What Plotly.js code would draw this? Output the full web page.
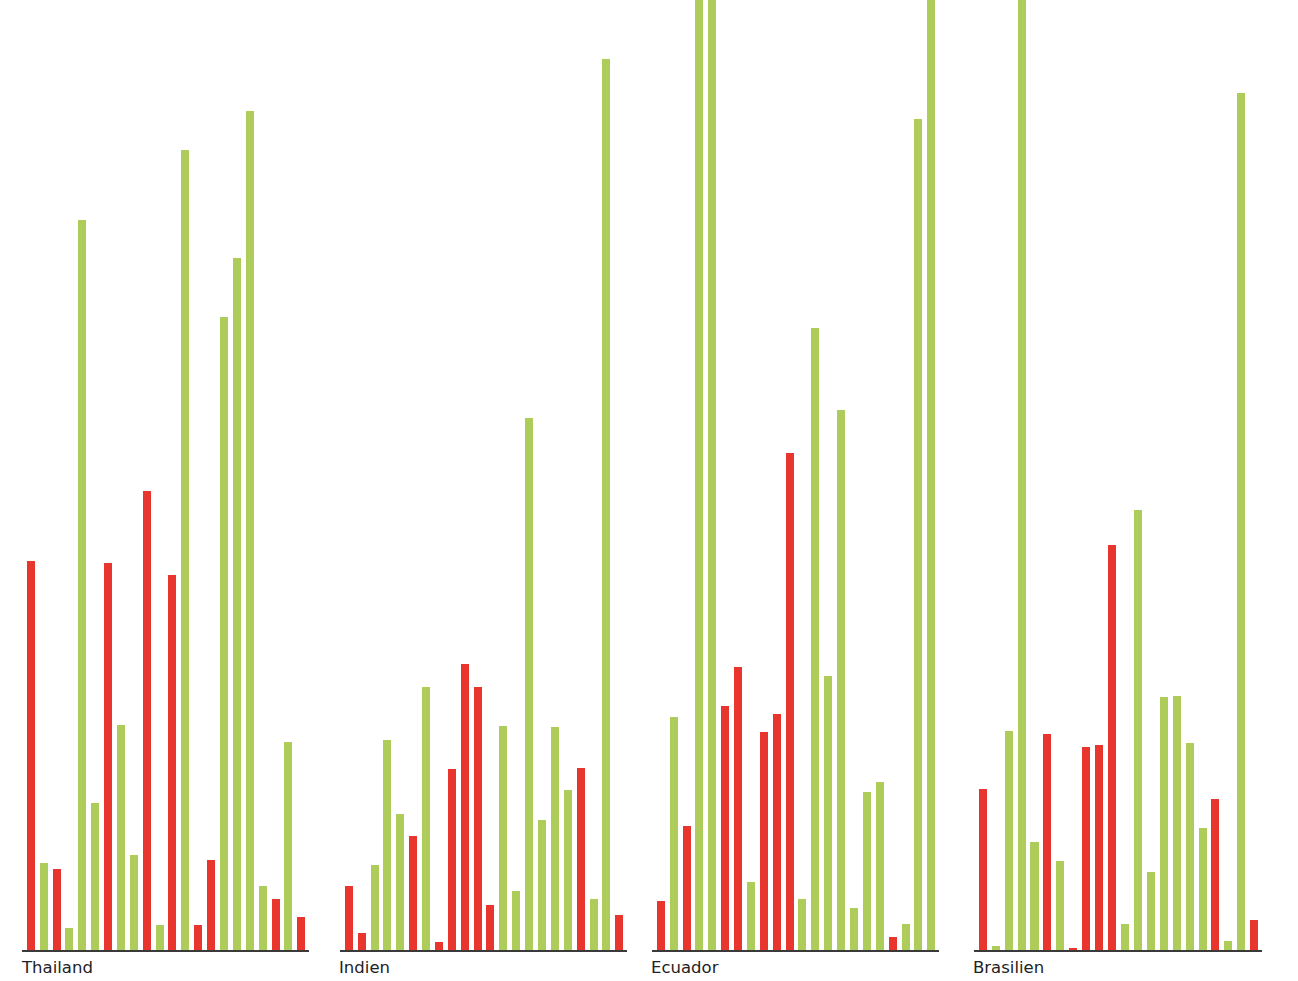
<!DOCTYPE html>
<html>
<head>
<meta charset="utf-8">
<script src="https://cdn.plot.ly/plotly-3.0.1.min.js"></script>
<style>html,body{margin:0;padding:0;background:#fff;}#chart{width:1298px;height:981px;}</style>
</head>
<body>
<div id="chart"></div>
<script>
// Countries (panel labels)
const countries = ["Thailand", "Indien", "Ecuador", "Brasilien"];
// Bar positions within each panel
const idx = [0,1,2,3,4,5,6,7,8,9,10,11,12,13,14,15,16,17,18,19,20,21];

// Values per country (bars taller than the plot top are clipped)
const thailandValues = [389, 87, 81, 22, 730, 147, 387, 225, 95, 459, 25, 375, 800, 25, 90, 633, 692, 839, 64, 51, 208, 33];
const indienValues   = [64, 17, 85, 210, 136, 114, 263, 8, 181, 286, 263, 45, 224, 59, 532, 130, 223, 160, 182, 51, 891, 35];
const ecuadorValues  = [49, 233, 124, 1000, 1000, 244, 283, 68, 218, 236, 497, 51, 622, 274, 540, 42, 158, 168, 13, 26, 831, 1000];
const brasilienValues= [161, 4, 219, 1000, 108, 216, 89, 2, 203, 205, 405, 26, 440, 78, 253, 254, 207, 122, 151, 9, 857, 30];

// Colour class per bar: "r" = red, "g" = green
const thailandClass = ["r","g","r","g","g","g","r","g","g","r","g","r","g","r","r","g","g","g","g","r","g","r"];
const indienClass   = ["r","r","g","g","g","r","g","r","r","r","r","r","g","g","g","g","g","g","r","g","g","r"];
const ecuadorClass  = ["r","g","r","g","g","r","r","g","r","r","r","g","g","g","g","g","g","g","r","g","g","g"];
const brasilienClass= ["r","g","g","g","g","r","g","r","r","r","r","g","g","g","g","g","g","g","r","g","g","r"];

const RED = "#E8352E", GREEN = "#AECC59";
const values = [thailandValues, indienValues, ecuadorValues, brasilienValues];
const classes = [thailandClass, indienClass, ecuadorClass, brasilienClass];

const W = 1298, H = 981;
const axisPx = [[22, 309], [340, 627], [652, 939], [974, 1262]];
const plotBottom = 950;

const traces = values.map((v, k) => ({
  type: "bar",
  x: idx,
  y: v,
  width: 0.62,
  xaxis: k === 0 ? "x" : "x" + (k + 1),
  yaxis: "y",
  marker: { color: classes[k].map(c => c === "r" ? RED : GREEN), line: { width: 0 } },
  hoverinfo: "skip",
  showlegend: false
}));

const layout = {
  width: W, height: H,
  margin: { l: 0, r: 0, t: 0, b: 0 },
  paper_bgcolor: "#fff", plot_bgcolor: "#fff",
  showlegend: false,
  bargap: 0,
  yaxis: {
    domain: [(H - plotBottom) / H, 1],
    range: [0, plotBottom],
    visible: false,
    fixedrange: true
  },
  annotations: countries.map((c, k) => ({
    text: c,
    xref: "paper", yref: "paper",
    x: (axisPx[k][0] - 2) / W, xanchor: "left",
    y: (H - 967) / H, yanchor: "middle",
    borderpad: 0,
    showarrow: false,
    font: { family: "DejaVu Sans", size: 16.5, color: "#222" }
  }))
};

axisPx.forEach((p, k) => {
  const key = k === 0 ? "xaxis" : "xaxis" + (k + 1);
  layout[key] = {
    domain: [p[0] / W, p[1] / W],
    range: [-0.68, 21.6],
    anchor: "y",
    showline: true,
    linecolor: "#3a3a3a",
    linewidth: 2,
    showgrid: false,
    zeroline: false,
    showticklabels: false,
    ticks: "",
    fixedrange: true
  };
});

Plotly.newPlot("chart", traces, layout, { displayModeBar: false, staticPlot: true });
</script>
</body>
</html>
